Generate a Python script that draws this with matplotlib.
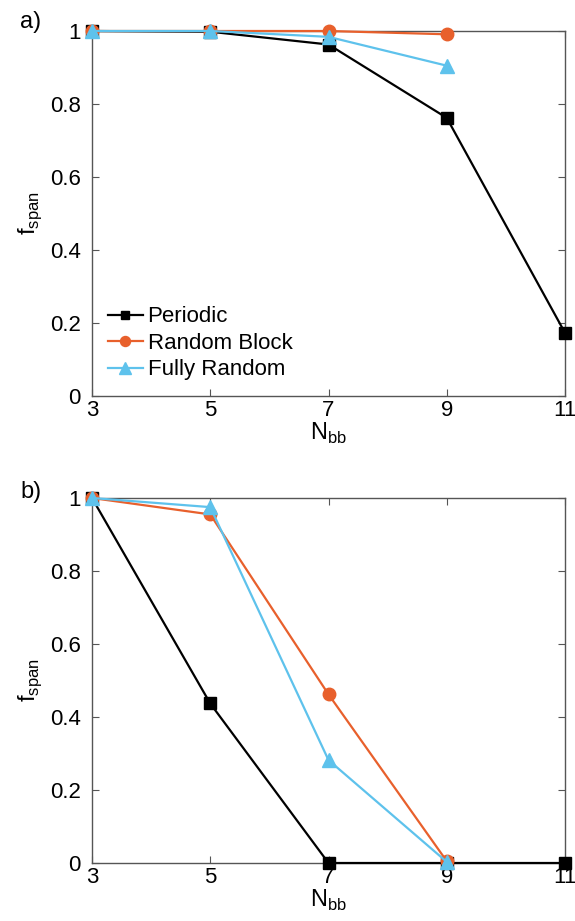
import matplotlib.pyplot as plt
from matplotlib.ticker import FixedLocator

plt.rcParams['font.family'] = ['Liberation Sans', 'DejaVu Sans']

n_bb = [3, 5, 7, 9, 11]
x_ticks = [3, 5, 7, 9, 11]
y_ticks = [0, 0.2, 0.4, 0.6, 0.8, 1]
y_tick_labels = ["0", "0.2", "0.4", "0.6", "0.8", "1"]

# panel a
periodic_a = [1.0, 0.998, 0.963, 0.762, 0.173]
block_a = [1.0, 1.0, 1.0, 0.991]
random_a = [1.0, 1.0, 0.984, 0.905]

# panel b
periodic_b = [1.0, 0.437, 0.0, 0.0, 0.0]
block_b = [1.0, 0.955, 0.462, 0.005]
random_b = [1.0, 0.975, 0.282, 0.003]

black = "black"
orange = "#E8602C"
blue = "#5EC2EC"

fig = plt.figure(figsize=(5.75, 9.21), dpi=100)
ax_a = fig.add_axes([92 / 575, 1 - 396 / 921, 473 / 575, 365 / 921])
ax_b = fig.add_axes([92 / 575, 1 - 863 / 921, 473 / 575, 365 / 921])


def draw_panel(ax, per, blk, rnd, legend=False):
    ax.plot(n_bb[:len(per)], per, color=black, marker="s", ms=8, lw=1.6,
            label="Periodic", clip_on=False, zorder=3)
    ax.plot(n_bb[:len(blk)], blk, color=orange, marker="o", ms=9, lw=1.6,
            label="Random Block", clip_on=False, zorder=4)
    ax.plot(n_bb[:len(rnd)], rnd, color=blue, marker="^", ms=10, lw=1.6,
            label="Fully Random", clip_on=False, zorder=5)
    ax.set_xlim(3, 11)
    ax.set_ylim(0, 1)
    ax.xaxis.set_major_locator(FixedLocator(x_ticks))
    ax.set_yticks(y_ticks)
    ax.set_yticklabels(y_tick_labels)
    ax.tick_params(direction="in", length=5, width=0.8, color="#555555",
                   top=True, right=True, labelsize=16)
    ax.tick_params(axis="y", pad=8)
    ax.tick_params(axis="x", pad=3)
    for sp in ax.spines.values():
        sp.set_color("#555555")
        sp.set_linewidth(1.0)
    ax.set_xlabel(r"N$_{\mathregular{bb}}$", fontsize=17, labelpad=0)
    ax.set_ylabel(r"f$_{\mathregular{span}}$", fontsize=17, labelpad=4)
    if legend:
        leg = ax.legend(loc="lower left", frameon=False, fontsize=16,
                        handlelength=1.6, handletextpad=0.2,
                        labelspacing=0.25, borderaxespad=0.3,
                        markerscale=0.8)


draw_panel(ax_a, periodic_a, block_a, random_a, legend=True)
draw_panel(ax_b, periodic_b, block_b, random_b)

fig.text(20 / 575, 1 - 22 / 921, "a)", fontsize=17, va="center", ha="left")
fig.text(20 / 575, 1 - 492 / 921, "b)", fontsize=17, va="center", ha="left")

fig.savefig("out.png", dpi=100)
